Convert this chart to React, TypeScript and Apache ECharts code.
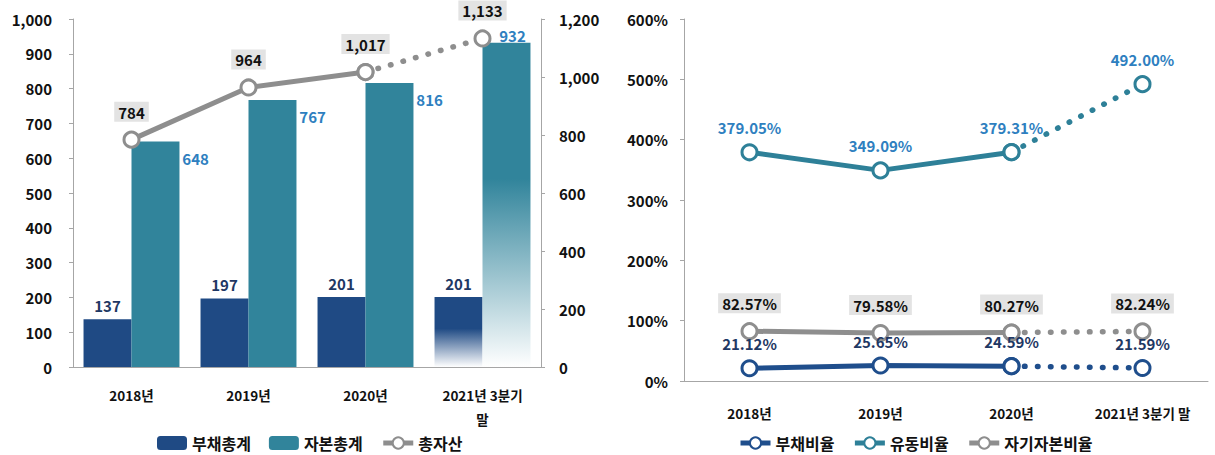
import React, { useEffect, useRef } from "react";
import * as echarts from "echarts";

const categoriesLeft = ["2018년", "2019년", "2020년", "2021년 3분기\n말"];
const categoriesRight = ["2018년", "2019년", "2020년", "2021년 3분기 말"];
const debtTotal = [137, 197, 201, 201];
const equityTotal = [648, 767, 816, 932];
const totalAssets = [784, 964, 1017, 1133];
const debtRatio = [21.12, 25.65, 24.59, 21.59];
const currentRatio = [379.05, 349.09, 379.31, 492.0];
const equityRatio = [82.57, 79.58, 80.27, 82.24];
const lastActualIndex = 2;

const FONT = "'Noto Sans CJK KR', 'Noto Sans', sans-serif";
const NAVY = "#1F4A84";
const TEAL = "#31849B";
const GRAY = "#8E8E8E";
const AXIS = "#A6A6A6";

const solidPart = (vals: number[]) => vals.map((v, i) => (i <= lastActualIndex ? v : null));
const dottedPart = (vals: number[]) =>
  vals.map((v, i) =>
    i < lastActualIndex ? null : i === lastActualIndex ? { value: v, label: { show: false } } : v
  );

export default function App() {
  const ref = useRef<HTMLDivElement>(null);
  useEffect(() => {
    document.body.style.margin = "0";
    const chart = echarts.init(ref.current!, null, { renderer: "svg" });

    const fadeBar = (base: string, solidStop: number) =>
      new echarts.graphic.LinearGradient(0, 0, 0, 1, [
        { offset: 0, color: base },
        { offset: solidStop, color: base },
        { offset: 1, color: "#FFFFFF" },
      ]);

    const numFmt = (v: number) => v.toLocaleString("en-US");
    const pctFmt = (v: number) => v.toFixed(2) + "%";

    const lineCommon = (color: string) => ({
      symbol: "circle",
      symbolSize: 15,
      itemStyle: { color: "#FFFFFF", borderColor: color, borderWidth: 3 },
      z: 5,
    });

    const grayLabel = (fmt: (v: number) => string) => ({
      show: true,
      position: "top",
      distance: 9,
      color: "#111",
      fontFamily: FONT,
      fontWeight: "bold",
      fontSize: 15,
      backgroundColor: "#E3E3E3",
      padding: [3, 4, 2, 4],
      formatter: (p: any) => fmt(p.value),
    });

    const plainLabel = (color: string, fmt: (v: number) => string) => ({
      show: true,
      position: "top",
      distance: 8,
      color,
      fontFamily: FONT,
      fontWeight: "bold",
      fontSize: 15,
      formatter: (p: any) => fmt(p.value),
    });

    const makeLine = (
      name: string,
      vals: number[],
      color: string,
      xi: number,
      yi: number,
      label: any
    ) => [
      {
        name,
        type: "line",
        xAxisIndex: xi,
        yAxisIndex: yi,
        data: solidPart(vals),
        lineStyle: { color, width: 5 },
        label,
        ...lineCommon(color),
      },
      {
        name,
        type: "line",
        xAxisIndex: xi,
        yAxisIndex: yi,
        data: dottedPart(vals),
        lineStyle: { color, width: 5.5, type: [0.5, 12.5], cap: "round" },
        label,
        ...lineCommon(color),
      },
    ];

    const tickLabel = { color: "#111", fontFamily: FONT, fontWeight: "bold", fontSize: 15 };
    const catLabel = { color: "#111", fontFamily: FONT, fontWeight: "bold", fontSize: 13.5, lineHeight: 24 };
    const legendCommon = {
      top: 430,
      itemGap: 18,
      itemWidth: 30,
      itemHeight: 14,
      lineStyle: { width: 5 },
      textStyle: { color: "#111", fontFamily: FONT, fontWeight: "bold", fontSize: 16 },
    };

    chart.setOption({
      animation: false,
      textStyle: { fontFamily: FONT },
      grid: [
        { left: 73, right: 674, top: 19, bottom: 88 },
        { left: 684, right: 7, top: 19, bottom: 74 },
      ],
      xAxis: [
        {
          type: "category",
          gridIndex: 0,
          data: categoriesLeft,
          axisLine: { lineStyle: { color: AXIS } },
          axisTick: { show: false },
          axisLabel: { ...catLabel, margin: 16 },
        },
        {
          type: "category",
          gridIndex: 1,
          data: categoriesRight,
          axisLine: { lineStyle: { color: AXIS } },
          axisTick: { show: false },
          axisLabel: { ...catLabel, margin: 20 },
        },
      ],
      yAxis: [
        {
          type: "value",
          gridIndex: 0,
          min: 0,
          max: 1000,
          interval: 100,
          axisLine: { show: true, lineStyle: { color: AXIS } },
          axisTick: { show: true, length: 4, lineStyle: { color: AXIS } },
          splitLine: { show: false },
          axisLabel: { ...tickLabel, margin: 21, formatter: (v: number) => numFmt(v) },
        },
        {
          type: "value",
          gridIndex: 0,
          position: "right",
          min: 0,
          max: 1200,
          interval: 200,
          axisLine: { show: true, lineStyle: { color: AXIS } },
          axisTick: { show: true, length: 4, lineStyle: { color: AXIS } },
          splitLine: { show: false },
          axisLabel: { ...tickLabel, margin: 18, formatter: (v: number) => numFmt(v) },
        },
        {
          type: "value",
          gridIndex: 1,
          min: 0,
          max: 600,
          interval: 100,
          axisLine: { show: true, lineStyle: { color: AXIS } },
          axisTick: { show: true, length: 4, lineStyle: { color: AXIS } },
          splitLine: { show: false },
          axisLabel: { ...tickLabel, margin: 16, formatter: (v: number) => v + "%" },
        },
      ],
      legend: [
        { ...legendCommon, left: 152, data: ["부채총계", "자본총계", "총자산"] },
        { ...legendCommon, left: 733, data: ["부채비율", "유동비율", "자기자본비율"] },
      ],
      series: [
        {
          name: "부채총계",
          type: "bar",
          xAxisIndex: 0,
          yAxisIndex: 0,
          barGap: "0%",
          barCategoryGap: "18%",
          itemStyle: { color: NAVY },
          data: debtTotal.map((v, i) =>
            i > lastActualIndex ? { value: v, itemStyle: { color: fadeBar(NAVY, 0.45) } } : v
          ),
          label: { ...plainLabel("#1F3864", numFmt), distance: 6 },
        },
        {
          name: "자본총계",
          type: "bar",
          xAxisIndex: 0,
          yAxisIndex: 0,
          barGap: "0%",
          barCategoryGap: "18%",
          itemStyle: { color: TEAL },
          data: equityTotal.map((v, i) =>
            i > lastActualIndex
              ? {
                  value: v,
                  itemStyle: { color: fadeBar(TEAL, 0.42) },
                  label: { position: "top", offset: [6, 2], distance: 2 },
                }
              : v
          ),
          label: {
            show: true,
            position: ["106%", 9],
            color: "#2E7FC0",
            fontFamily: FONT,
            fontWeight: "bold",
            fontSize: 15,
            formatter: (p: any) => numFmt(p.value),
          },
        },
        ...makeLine("총자산", totalAssets, GRAY, 0, 1, grayLabel(numFmt)),
        ...makeLine("부채비율", debtRatio, "#1F4E8C", 1, 2, plainLabel("#1F3864", pctFmt)),
        ...makeLine("유동비율", currentRatio, "#2E8098", 1, 2, plainLabel("#2E7FC0", pctFmt)),
        ...makeLine("자기자본비율", equityRatio, GRAY, 1, 2, grayLabel(pctFmt)),
      ],
    });
    return () => chart.dispose();
  }, []);
  return <div ref={ref} style={{ width: 1215, height: 455 }} />;
}
